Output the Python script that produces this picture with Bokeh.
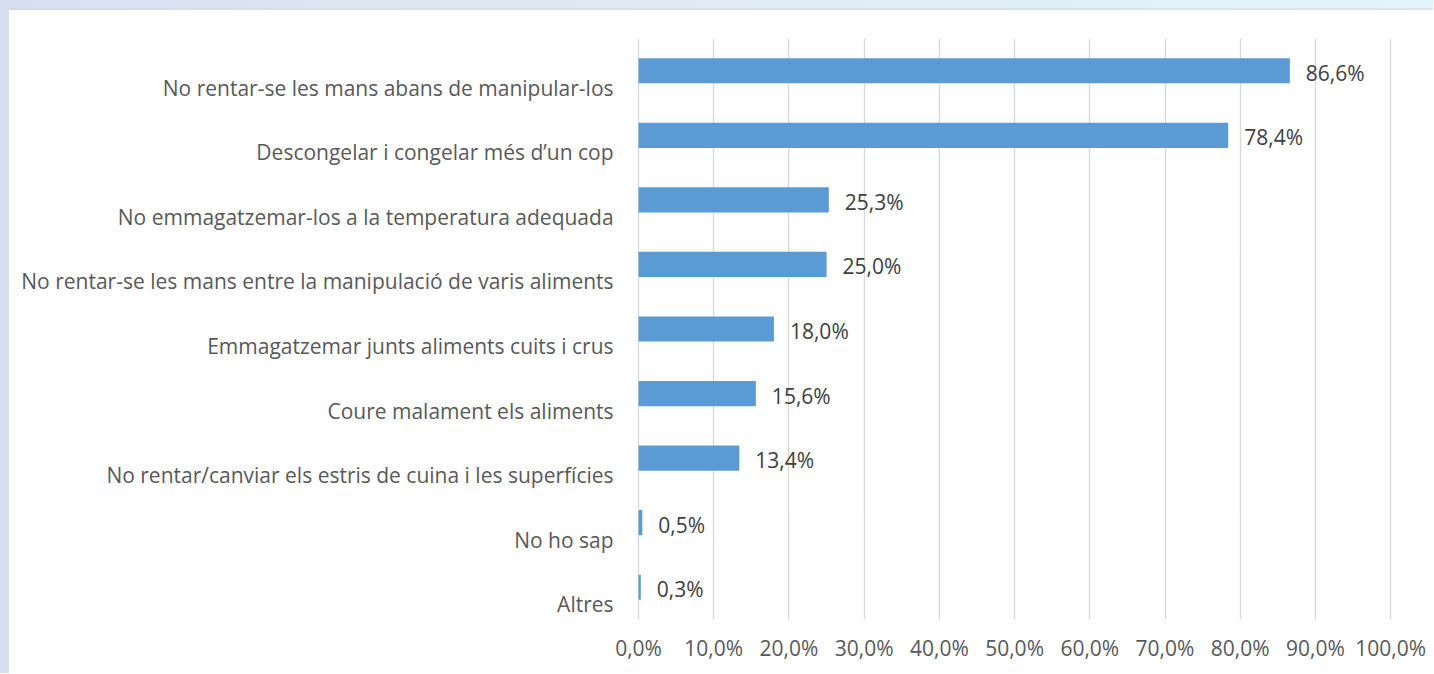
from bokeh.plotting import figure
from bokeh.models import ColumnDataSource, FixedTicker
from bokeh.core.properties import value
from bokeh.embed import file_html
from bokeh.resources import INLINE

categories = [
    "No rentar-se les mans abans de manipular-los",
    "Descongelar i congelar més d’un cop",
    "No emmagatzemar-los a la temperatura adequada",
    "No rentar-se les mans entre la manipulació de varis aliments",
    "Emmagatzemar junts aliments cuits i crus",
    "Coure malament els aliments",
    "No rentar/canviar els estris de cuina i les superfícies",
    "No ho sap",
    "Altres",
]
values = [86.6, 78.4, 25.3, 25.0, 18.0, 15.6, 13.4, 0.5, 0.3]
value_labels = ["86,6%", "78,4%", "25,3%", "25,0%", "18,0%", "15,6%", "13,4%", "0,5%", "0,3%"]
tick_values = [0, 10, 20, 30, 40, 50, 60, 70, 80, 90, 100]
tick_labels = ["0,0%", "10,0%", "20,0%", "30,0%", "40,0%", "50,0%", "60,0%",
               "70,0%", "80,0%", "90,0%", "100,0%"]

FONT = "Open Sans"
GREY = "#595959"
DARK = "#404040"

src = ColumnDataSource(dict(cat=categories, val=values, lab=value_labels,
                            zero=[0] * len(values)))

# the frame is widened to the left so the category labels (drawn as text
# glyphs, offset below each bar like in the original) are not clipped
p = figure(y_range=list(reversed(categories)), x_range=(-83.64, 105.7),
           frame_width=1424, frame_height=581,
           min_border_left=9, min_border_right=0, min_border_top=38,
           min_border_bottom=54,
           output_backend="svg", toolbar_location=None)

p.border_fill_color = None
p.background_fill_color = "white"
p.styles = {
    "background": "linear-gradient(white, white) 9px 10px / calc(100% - 9px) calc(100% - 10px) no-repeat, "
                  "linear-gradient(180deg, rgba(0,0,0,0) 8px, #cfd6dc 9px, rgba(0,0,0,0) 10px) 9px 0 / 100% 10px no-repeat, "
                  "linear-gradient(90deg, #d9dff2, #dfe9f3 40%, #e3f4fc)"
}

p.hbar(y="cat", left=0, right="val", height=0.39, source=src,
       fill_color="#5B9BD5", line_color=None)

p.text(x="val", y="cat", text="lab", source=src, x_offset=16, y_offset=2,
       text_align="left", text_baseline="middle", text_color=DARK,
       text_font=value(FONT), text_font_size="21px")

p.text(x="zero", y="cat", text="cat", source=src, x_offset=-25, y_offset=17,
       text_align="right", text_baseline="middle", text_color=GREY,
       text_font=value(FONT), text_font_size="21px")

p.outline_line_color = None
p.ygrid.grid_line_color = None
p.xgrid.grid_line_color = "#d9d9d9"
p.xgrid.grid_line_width = 1.4
p.xgrid.ticker = FixedTicker(ticks=tick_values)

p.yaxis.visible = False
xa = p.xaxis[0]
xa.ticker = FixedTicker(ticks=tick_values)
xa.major_label_overrides = {t: l for t, l in zip(tick_values, tick_labels)}
xa.axis_line_color = None
xa.major_tick_line_color = None
xa.minor_tick_line_color = None
xa.major_tick_out = 0
xa.major_tick_in = 0
xa.major_label_standoff = 14
xa.major_label_text_font = FONT
xa.major_label_text_font_size = "21px"
xa.major_label_text_color = GREY

open("out.html", "w").write(file_html(p, INLINE))
